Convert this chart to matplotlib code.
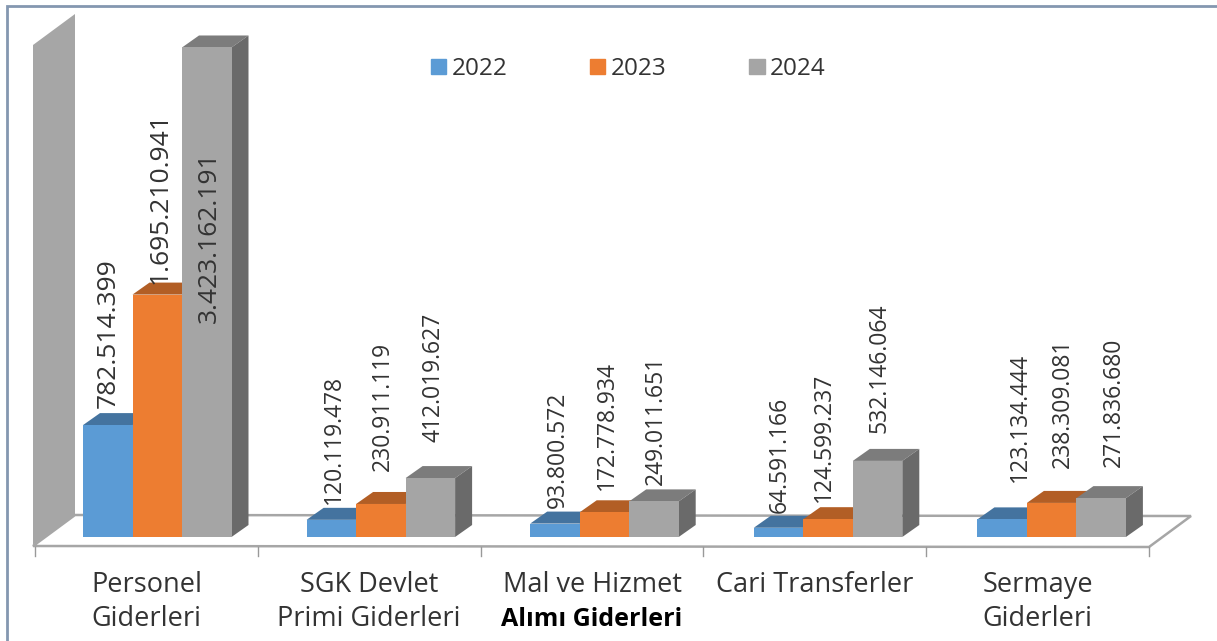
import matplotlib
matplotlib.use('Agg')
import matplotlib.pyplot as plt
from matplotlib.patches import Polygon, Rectangle

plt.rcParams['font.family'] = ['Open Sans', 'DejaVu Sans']

categories = [['Personel', 'Giderleri'], ['SGK Devlet', 'Primi Giderleri'],
              ['Mal ve Hizmet', 'Alımı Giderleri'], ['Cari Transferler'],
              ['Sermaye', 'Giderleri']]
years = ['2022', '2023', '2024']
v2022 = [782514399, 120119478, 93800572, 64591166, 123134444]
v2023 = [1695210941, 230911119, 172778934, 124599237, 238309081]
v2024 = [3423162191, 412019627, 249011651, 532146064, 271836680]

front = ['#5B9BD5', '#ED7D31', '#A5A5A5']
top = ['#44739F', '#B25E25', '#7C7C7C']
side = ['#3E6990', '#A05520', '#6A6A6A']
line_col = '#A6A6A6'
text_col = '#333333'

W, H = 1217, 641
x0, cell = 35, 222.8   # kategori genisligi, piksel
base = 537
scale = 0.143e-6       # piksel / deger

# etiketlerin yeri (piksel), her seri icin ayri
label_x = [[108, 334, 558, 780, 1020],
           [160, 383, 607, 824, 1063],
           [209, 433, 656, 879, 1114]]
label_bottom = [[408, 504, 508, 513, 482],
                [284, 471, 490, 502, 468],
                [323, 442, 485, 433, 467]]
label_size = [19, 16.5, 16.5, 16.5, 16.5]


def px(x, y):
    return (x - x0) / cell, (base - y) / scale


def money(v):
    return f'{v:,}'.replace(',', '.')


fig = plt.figure(figsize=(W / 100, H / 100), dpi=100)
ax = fig.add_axes([0, 0, 1, 1])
ax.set_xlim(-x0 / cell, (W - x0) / cell)
ax.set_ylim((base - H) / scale, base / scale)
ax.axis('off')

# dis cerceve
ax.add_patch(Polygon([px(7, 641), px(7, 6), px(1217, 6)], closed=False, fill=False,
                     edgecolor='#8497B0', lw=2, zorder=1))

# duvar ve zemin
ax.add_patch(Polygon([px(33, 545), px(75, 515), px(75, 14), px(33, 45)],
                     facecolor=line_col, edgecolor='none', zorder=2))
ax.add_patch(Polygon([px(33, 546), px(1149, 547), px(1191, 516), px(75, 515)],
                     facecolor='white', edgecolor=line_col, lw=1.8, zorder=2))
for i in range(6):
    ax.plot(*zip(px(x0 + cell * i, 547), px(x0 + cell * i, 556)), color='#999999', lw=1, zorder=2)

bar_w = 49.5 / cell
step = 223.6 / cell
start = (83 - x0) / cell
dx, dy = 17 / cell, 12 / scale
handles = []
for s, values in enumerate([v2022, v2023, v2024]):
    xs = [i * step + start + s * bar_w for i in range(len(values))]
    for x, v in zip(xs, values):
        ax.add_patch(Polygon([(x, v), (x + bar_w, v), (x + bar_w + dx, v + dy), (x + dx, v + dy)],
                             facecolor=top[s], edgecolor='none', zorder=3 + s))
        ax.add_patch(Polygon([(x + bar_w, 0), (x + bar_w + dx, dy), (x + bar_w + dx, v + dy), (x + bar_w, v)],
                             facecolor=side[s], edgecolor='none', zorder=3 + s))
    ax.bar(xs, values, width=bar_w, align='edge', color=front[s], zorder=3 + s, label=years[s])
    handles.append(Rectangle((0, 0), 1, 1, color=front[s]))
    for i, v in enumerate(values):
        ax.text(*px(label_x[s][i], label_bottom[s][i]), money(v), rotation=90, ha='center', va='bottom',
                fontsize=label_size[i], color=text_col, zorder=8)

for i, lines in enumerate(categories):
    cx = i + 0.5
    ys = [585, 619] if len(lines) == 2 else [585]
    for t, y in zip(lines, ys):
        bold = t == 'Alımı Giderleri'
        ax.text(cx, (base - y) / scale, t, ha='center', va='center', fontsize=18 if bold else 19.5,
                color='black' if bold else text_col, fontweight='bold' if bold else 'normal')

ax.legend(handles, years, ncols=3, frameon=False, loc='center left',
          bbox_to_anchor=(431 / W, 1 - 69 / H), bbox_transform=fig.transFigure,
          fontsize=17.5, handlelength=0.63, handleheight=0.58, handletextpad=0.22,
          columnspacing=3.4, borderpad=0, borderaxespad=0, labelcolor=text_col)

plt.savefig('out.png', dpi=100)
plt.close()
